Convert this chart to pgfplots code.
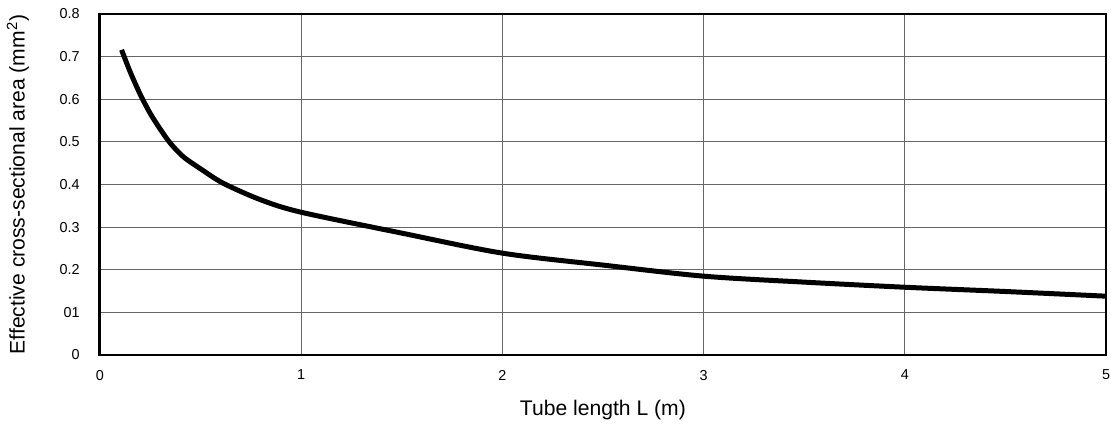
\documentclass[border=0pt]{standalone}
\usepackage{pgfplots}
\pgfplotsset{compat=1.18}
\usepackage{fontspec}
\setmainfont{Liberation Sans}
\begin{document}
\begin{tikzpicture}
\begin{axis}[
  scale only axis,
  width=524pt, height=177.6pt,
  xmin=0, xmax=5, ymin=0, ymax=0.8,
  xtick={0,1,2,3,4,5},
  ytick={0,0.1,0.2,0.3,0.4,0.5,0.6,0.7,0.8},
  yticklabels={0,01,0.2,0.3,0.4,0.5,0.6,0.7,0.8},
  /pgf/number format/assume math mode=true,
  tick label style={font=\fontsize{7.5}{8}\selectfont},
  major tick length=0pt,
  xtick pos=bottom, ytick pos=left,
  xticklabel style={yshift=-4.3pt},
  yticklabel style={xshift=-7pt},
  grid=major,
  major grid style={gray!80!black, line width=0.5pt},
  axis line style={line width=1.5pt},
  xlabel={Tube length L (m)},
  ylabel={Effective cross-sectional area (mm\textsuperscript{2})},
  label style={font=\fontsize{11}{13}\selectfont},
  xlabel style={at={(axis description cs:0.5,0)}, yshift=-28.6pt, anchor=center},
  ylabel style={at={(axis description cs:0,0.5)}, yshift=42.7pt, anchor=center},
]
\addplot[black, line width=2.6pt, smooth, tension=0.5] coordinates {
(0.108,0.716) (0.15,0.665) (0.2,0.612) (0.25,0.567) (0.3,0.530) (0.35,0.497) (0.415,0.465) (0.5,0.437) (0.613,0.403) (0.8,0.364) (1.0,0.335)
(1.5,0.286) (2.0,0.239) (2.5,0.211) (3.0,0.185) (3.5,0.171) (4.0,0.159) (4.5,0.149) (5.0,0.138)
};
\end{axis}
\pgfresetboundingbox
\path ([shift={(-52pt,-36pt)}]current axis.south west) rectangle ([shift={(2.6pt,7.3pt)}]current axis.north east);
\end{tikzpicture}
\end{document}
